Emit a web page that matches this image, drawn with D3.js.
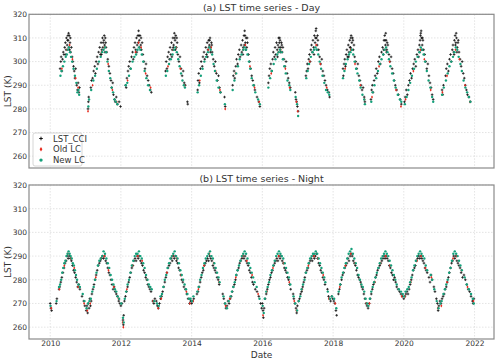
<!DOCTYPE html>
<html>
<head>
<meta charset="utf-8">
<script src="https://cdn.jsdelivr.net/npm/d3@7"></script>
<style>
  body { margin: 0; background: #fff; }
  svg text { font-family: "DejaVu Sans", sans-serif; fill: #333; }
</style>
</head>
<body>
<div id="chart"></div>
<script>
var svgWidth = 500;
var svgHeight = 362;

// time given as years after 2000 (decimal), value in K
var dayCCI = [
  [10.28,297],[10.30,300],[10.31,302],[10.33,296],[10.35,301],[10.37,304],[10.39,303],[10.41,306],[10.43,308],[10.45,305],[10.46,310],[10.48,307],[10.50,311],[10.51,309],[10.53,306],[10.54,311],[10.56,308],[10.58,304],[10.60,306],[10.62,302],[10.64,300],[10.66,298],[10.68,296],[10.70,293],[10.72,297],[10.75,290],[10.77,288],[10.79,291],[10.81,287],[10.83,289],
  [10.44,303],[10.49,309],[10.52,312],[10.55,305],[10.57,310],
  [11.07,280],[11.08,283],[11.09,285],[11.15,289],[11.17,292],[11.20,293],[11.23,296],[11.26,298],[11.28,295],[11.30,300],[11.33,302],[11.35,299],[11.37,304],[11.40,306],[11.42,303],[11.44,308],[11.46,305],[11.48,310],[11.50,308],[11.52,309],[11.54,307],[11.56,310],[11.58,306],[11.60,304],[11.63,301],[11.66,298],[11.69,295],[11.72,292],[11.74,289],[11.77,291],[11.79,286],[11.82,284],[11.84,283],[11.87,285],[11.90,282],[11.95,283],[11.99,281],
  [11.45,303],[11.49,306],[11.53,311],[11.55,304],[11.57,308],
  [12.13,290],[12.15,289],[12.17,293],[12.20,296],[12.22,298],[12.25,300],[12.27,297],[12.30,302],[12.33,304],[12.35,301],[12.37,306],[12.40,308],[12.42,305],[12.44,310],[12.46,307],[12.48,311],[12.50,313],[12.52,309],[12.54,311],[12.56,307],[12.58,305],[12.60,308],[12.62,303],[12.65,300],[12.68,297],[12.71,299],[12.74,294],[12.77,292],[12.80,290],[12.83,288],[12.86,287],
  [12.45,304],[12.49,308],[12.51,311],[12.53,306],[12.57,310],
  [13.26,296],[13.28,300],[13.30,297],[13.32,302],[13.35,304],[13.37,301],[13.39,306],[13.41,303],[13.43,308],[13.45,305],[13.47,310],[13.49,307],[13.51,312],[13.53,309],[13.55,311],[13.57,306],[13.59,308],[13.61,303],[13.64,300],[13.67,302],[13.70,297],[13.73,294],[13.76,296],[13.79,291],[13.82,290],[13.88,283],[13.89,282],
  [13.44,302],[13.48,306],[13.52,310],[13.54,305],[13.58,310],
  [14.17,288],[14.18,292],[14.20,295],[14.22,291],[14.25,297],[14.27,300],[14.30,298],[14.32,302],[14.35,304],[14.37,301],[14.40,306],[14.42,303],[14.44,308],[14.46,305],[14.48,309],[14.50,307],[14.52,310],[14.54,306],[14.56,308],[14.58,304],[14.61,301],[14.64,298],[14.67,300],[14.70,295],[14.73,292],[14.76,294],[14.79,289],[14.82,287],[14.93,285],[14.95,281],
  [14.45,302],[14.49,306],[14.51,309],[14.53,304],[14.57,307],
  [15.16,290],[15.18,294],[15.20,296],[15.22,293],[15.25,298],[15.27,301],[15.30,299],[15.32,303],[15.35,305],[15.37,302],[15.40,307],[15.42,304],[15.44,309],[15.46,306],[15.48,311],[15.50,313],[15.52,308],[15.54,310],[15.56,306],[15.58,308],[15.61,303],[15.64,300],[15.67,297],[15.70,294],[15.73,292],[15.76,290],[15.79,288],[15.85,285],[15.90,283],[15.93,281],
  [15.45,303],[15.49,307],[15.51,311],[15.53,305],[15.57,310],
  [16.17,291],[16.19,294],[16.21,297],[16.24,299],[16.26,296],[16.29,301],[16.31,304],[16.34,302],[16.36,306],[16.38,303],[16.40,308],[16.42,305],[16.44,307],[16.46,310],[16.48,308],[16.50,309],[16.52,306],[16.54,308],[16.56,304],[16.58,306],[16.61,301],[16.64,298],[16.67,300],[16.70,295],[16.73,293],[16.76,291],[16.79,289],
  [16.43,302],[16.47,306],[16.49,310],[16.51,304],[16.55,307],
  [16.93,287],[16.95,284],[16.97,283],[16.99,281],[17.01,279],[17.23,294],[17.25,296],[17.27,299],[17.29,297],[17.31,301],[17.33,303],[17.35,300],[17.37,305],[17.39,307],[17.41,304],[17.43,309],[17.45,306],[17.47,311],[17.49,308],[17.51,313],[17.53,310],[17.55,307],[17.57,309],[17.59,305],[17.62,302],[17.65,299],[17.68,301],[17.71,296],[17.74,294],[17.77,292],[17.80,290],[17.84,288],[17.88,287],[17.90,285],
  [17.46,303],[17.50,310],[17.52,314],[17.54,305],[17.56,311],
  [18.28,297],[18.29,294],[18.31,299],[18.33,301],[18.35,298],[18.37,303],[18.39,305],[18.41,302],[18.43,307],[18.45,304],[18.47,309],[18.49,306],[18.51,311],[18.53,308],[18.55,310],[18.57,305],[18.59,307],[18.61,302],[18.64,300],[18.67,297],[18.70,299],[18.73,294],[18.76,292],[18.79,290],[18.82,288],[18.85,289],[18.88,285],[18.90,283],
  [18.44,302],[18.48,306],[18.50,310],[18.52,305],[18.56,309],
  [19.07,284],[19.09,288],[19.11,290],[19.13,287],[19.16,292],[19.19,294],[19.22,297],[19.25,295],[19.28,300],[19.31,302],[19.34,299],[19.37,304],[19.40,306],[19.42,303],[19.44,309],[19.46,311],[19.48,307],[19.50,309],[19.52,305],[19.55,307],[19.58,303],[19.61,300],[19.64,302],[19.67,297],[19.70,295],[19.73,292],[19.76,290],[19.80,288],[19.85,286],[19.90,284],[19.93,282],
  [19.43,305],[19.47,309],[19.49,312],[19.51,304],[19.53,308],
  [20.02,283],[20.04,285],[20.07,288],[20.10,286],[20.13,290],[20.16,292],[20.19,295],[20.22,293],[20.25,297],[20.28,299],[20.31,301],[20.34,298],[20.37,303],[20.40,305],[20.42,302],[20.44,307],[20.46,309],[20.48,312],[20.50,310],[20.52,307],[20.54,309],[20.56,305],[20.59,303],[20.62,300],[20.65,297],[20.68,299],[20.71,294],[20.74,291],[20.77,289],[20.80,286],[20.83,284],
  [20.45,304],[20.47,311],[20.49,313],[20.51,305],[20.53,310],
  [21.08,288],[21.10,286],[21.12,290],[21.18,294],[21.20,297],[21.23,299],[21.26,296],[21.29,301],[21.32,303],[21.34,300],[21.37,305],[21.39,307],[21.41,304],[21.43,309],[21.45,311],[21.47,308],[21.49,310],[21.51,306],[21.53,308],[21.56,304],[21.59,301],[21.62,298],[21.65,300],[21.68,295],[21.71,293],[21.74,290],[21.77,288],[21.80,286],[21.84,285],[21.88,283],
  [21.42,303],[21.46,307],[21.48,312],[21.50,304],[21.54,309]
];
var dayOld = [
  [10.33,297],[10.48,305],[10.55,307],[10.63,301],[10.72,293],[10.79,289],
  [11.07,279],[11.20,290],[11.45,304],[11.53,306],[11.64,299],[11.76,288],[11.88,283],
  [12.19,292],[12.41,304],[12.50,308],[12.57,306],[12.70,295],[12.84,289],
  [13.33,298],[13.48,305],[13.56,306],[13.68,297],[13.80,290],
  [14.23,292],[14.47,305],[14.55,306],[14.68,296],[14.80,288],[14.95,280],
  [15.24,295],[15.45,305],[15.52,307],[15.65,298],[15.78,289],[15.91,283],
  [16.25,295],[16.45,304],[16.52,305],[16.65,297],[16.77,289],
  [16.96,283],[17.00,279],[17.34,300],[17.52,307],[17.64,299],[17.82,289],
  [18.34,297],[18.50,305],[18.62,299],[18.77,290],[18.89,284],
  [19.10,285],[19.30,298],[19.47,305],[19.60,300],[19.78,288],[19.92,281],
  [20.05,284],[20.27,296],[20.47,305],[20.58,301],[20.76,288],
  [21.09,287],[21.22,294],[21.46,305],[21.57,301],[21.73,290],[21.87,283]
];
var dayNew = [
  [10.29,294],[10.32,296],[10.36,298],[10.40,300],[10.44,302],[10.47,303],[10.50,305],[10.53,306],[10.56,304],[10.59,302],[10.62,300],[10.66,297],[10.70,294],[10.74,291],[10.77,287],[10.80,288],[10.82,286],
  [11.08,281],[11.10,284],[11.16,288],[11.22,292],[11.27,294],[11.32,297],[11.38,300],[11.43,302],[11.47,304],[11.51,305],[11.55,306],[11.58,304],[11.62,300],[11.66,296],[11.70,293],[11.74,289],[11.78,287],[11.82,284],[11.86,283],[11.90,282],
  [12.14,290],[12.18,291],[12.23,294],[12.28,297],[12.33,300],[12.38,302],[12.43,303],[12.47,305],[12.51,306],[12.55,305],[12.59,303],[12.63,300],[12.67,296],[12.72,293],[12.77,290],[12.82,288],
  [13.27,294],[13.31,296],[13.36,299],[13.41,301],[13.46,303],[13.50,305],[13.54,306],[13.58,304],[13.62,301],[13.66,298],[13.70,295],[13.74,292],[13.78,290],[13.81,289],
  [14.17,287],[14.21,290],[14.26,294],[14.31,297],[14.36,300],[14.41,302],[14.46,304],[14.50,306],[14.54,305],[14.58,303],[14.62,299],[14.66,296],[14.71,292],[14.76,289],[14.81,287],[14.94,282],
  [15.16,288],[15.21,292],[15.26,295],[15.31,298],[15.36,301],[15.41,303],[15.46,305],[15.50,306],[15.54,305],[15.58,303],[15.62,300],[15.66,297],[15.70,293],[15.75,290],[15.80,287],[15.88,284],[15.93,282],
  [16.17,289],[16.22,293],[16.27,296],[16.32,299],[16.37,301],[16.42,303],[16.46,304],[16.50,305],[16.54,304],[16.58,301],[16.62,298],[16.66,295],[16.71,292],[16.76,290],[16.79,288],
  [16.94,285],[16.98,282],[17.01,277],[17.24,293],[17.28,296],[17.32,299],[17.37,302],[17.42,304],[17.46,305],[17.50,306],[17.54,305],[17.58,303],[17.62,300],[17.66,297],[17.70,294],[17.75,291],[17.80,288],[17.85,287],[17.89,286],
  [18.28,293],[18.32,296],[18.36,299],[18.41,301],[18.45,303],[18.49,304],[18.53,305],[18.57,303],[18.61,300],[18.65,297],[18.69,295],[18.74,292],[18.78,289],[18.83,286],[18.88,284],[18.90,282],
  [19.08,283],[19.12,287],[19.17,290],[19.22,293],[19.27,296],[19.32,299],[19.37,301],[19.42,303],[19.46,305],[19.50,306],[19.54,304],[19.58,301],[19.62,298],[19.67,295],[19.72,292],[19.77,289],[19.83,286],[19.89,284],[19.93,283],
  [20.03,282],[20.08,285],[20.13,288],[20.18,291],[20.23,294],[20.29,297],[20.34,300],[20.39,302],[20.44,304],[20.48,306],[20.52,305],[20.56,303],[20.60,300],[20.65,296],[20.70,292],[20.75,289],[20.80,285],[20.83,283],
  [21.08,286],[21.13,289],[21.19,292],[21.24,295],[21.29,298],[21.34,300],[21.39,302],[21.43,304],[21.47,306],[21.51,305],[21.55,302],[21.60,299],[21.64,296],[21.69,292],[21.74,289],[21.79,287],[21.84,285],[21.88,283]
];

var nightCCI = [
  [10.00,270],[10.02,268],[10.04,267],[10.17,270],[10.19,272],[10.25,276],[10.27,277],[10.30,279],[10.33,281],[10.36,283],[10.39,285],[10.42,287],[10.45,288],[10.48,290],[10.51,289],[10.54,290],[10.57,289],[10.60,288],[10.63,286],[10.66,284],[10.69,283],[10.72,281],[10.75,279],[10.78,277],[10.81,278],[10.84,276],[10.90,273],[10.95,271],[10.98,269],
  [11.02,267],[11.04,269],[11.06,266],[11.08,270],[11.10,268],[11.12,272],[11.14,269],[11.16,271],[11.18,274],[11.21,276],[11.24,278],[11.27,280],[11.30,282],[11.33,284],[11.36,286],[11.39,287],[11.42,288],[11.45,289],[11.48,290],[11.51,289],[11.54,290],[11.57,288],[11.60,287],[11.63,285],[11.66,283],[11.69,282],[11.72,280],[11.75,278],[11.78,276],[11.81,277],[11.84,275],[11.87,274],[11.90,273],[11.94,271],[11.97,270],
  [12.00,269],[12.03,270],[12.06,263],[12.07,261],[12.08,265],[12.10,271],[12.13,273],[12.16,275],[12.19,277],[12.22,279],[12.25,281],[12.28,283],[12.31,285],[12.34,286],[12.37,288],[12.40,289],[12.43,288],[12.46,290],[12.49,289],[12.52,290],[12.55,288],[12.58,287],[12.61,286],[12.64,284],[12.67,283],[12.70,281],[12.73,280],[12.76,278],[12.79,277],[12.82,276],[12.85,275],[12.90,271],[12.93,270],[12.96,272],
  [13.00,271],[13.03,269],[13.06,268],[13.09,270],[13.12,272],[13.15,273],[13.18,275],[13.21,277],[13.24,279],[13.27,281],[13.30,283],[13.33,285],[13.36,286],[13.39,287],[13.42,289],[13.45,288],[13.48,290],[13.51,289],[13.54,290],[13.57,288],[13.60,287],[13.63,285],[13.66,284],[13.69,282],[13.72,280],[13.75,279],[13.78,277],[13.82,276],[13.86,274],[13.90,272],[13.94,270],[13.97,271],
  [14.00,270],[14.03,271],[14.06,272],[14.15,274],[14.18,275],[14.21,277],[14.24,279],[14.27,281],[14.30,283],[14.33,284],[14.36,286],[14.39,287],[14.42,288],[14.45,289],[14.48,288],[14.51,290],[14.54,289],[14.57,288],[14.60,286],[14.63,285],[14.66,284],[14.69,283],[14.72,281],[14.75,280],[14.78,278],
  [14.88,274],[14.91,272],[14.94,270],[14.97,268],[15.00,269],[15.03,271],[15.06,270],[15.09,272],[15.12,273],[15.15,275],[15.18,277],[15.21,278],[15.24,280],[15.27,282],[15.30,284],[15.33,285],[15.36,287],[15.39,288],[15.42,289],[15.45,290],[15.48,289],[15.51,290],[15.54,288],[15.57,287],[15.60,286],[15.63,284],[15.66,283],[15.69,281],[15.72,279],[15.75,278],[15.80,276],[15.85,275],[15.90,273],[15.95,270],[15.98,268],
  [16.00,270],[16.02,267],[16.03,264],[16.05,268],[16.08,272],[16.11,274],[16.14,276],[16.17,278],[16.20,280],[16.23,281],[16.26,283],[16.29,284],[16.32,286],[16.35,287],[16.38,288],[16.41,289],[16.44,288],[16.47,290],[16.50,289],[16.53,290],[16.56,288],[16.59,287],[16.62,285],[16.65,284],[16.68,283],[16.71,281],[16.74,280],[16.77,278],[16.80,276],
  [16.87,274],[16.89,272],[16.92,270],[16.95,268],[16.97,266],[16.99,269],[17.02,271],[17.05,272],[17.08,274],[17.11,275],[17.14,277],[17.17,279],[17.20,281],[17.23,283],[17.26,284],[17.29,285],[17.32,287],[17.35,288],[17.38,289],[17.41,288],[17.44,290],[17.47,289],[17.50,290],[17.53,291],[17.56,289],[17.59,287],[17.62,286],[17.65,284],[17.68,283],[17.71,281],[17.74,280],[17.77,278],
  [17.84,276],[17.87,273],[17.90,272],[17.93,271],[17.96,273],[17.99,272],[18.02,271],[18.05,270],[18.08,267],[18.10,265],[18.15,274],[18.18,276],[18.21,278],[18.24,280],[18.27,282],[18.30,283],[18.33,285],[18.36,286],[18.39,287],[18.42,289],[18.45,288],[18.48,290],[18.51,291],[18.54,290],[18.57,288],[18.60,287],[18.63,286],[18.66,284],[18.69,282],[18.72,281],[18.75,280],[18.78,279],[18.81,277],[18.84,276],[18.87,274],[18.90,272],[18.93,270],[18.96,269],[18.99,268],
  [19.02,270],[19.05,272],[19.08,274],[19.11,276],[19.14,278],[19.17,279],[19.20,281],[19.23,282],[19.26,284],[19.29,285],[19.32,286],[19.35,287],[19.38,288],[19.41,289],[19.44,290],[19.47,289],[19.50,290],[19.53,289],[19.56,288],[19.59,286],[19.62,285],[19.65,283],[19.68,282],[19.71,280],[19.74,281],[19.77,279],[19.80,277],[19.84,276],[19.88,275],[19.92,274],[19.96,273],
  [20.00,272],[20.03,273],[20.06,274],[20.09,275],[20.12,274],[20.15,276],[20.18,278],[20.21,280],[20.24,282],[20.27,284],[20.30,285],[20.33,286],[20.36,288],[20.39,289],[20.42,290],[20.45,289],[20.48,290],[20.51,289],[20.54,288],[20.57,287],[20.60,285],[20.63,284],[20.66,283],[20.71,281],[20.74,279],[20.77,282],[20.80,280],[20.85,277],[20.88,275],[20.92,272],[20.95,270],[20.97,267],[20.99,269],
  [21.02,271],[21.05,270],[21.08,272],[21.11,273],[21.14,274],[21.17,276],[21.20,277],[21.23,279],[21.26,281],[21.29,283],[21.32,285],[21.35,287],[21.38,288],[21.41,290],[21.44,289],[21.47,290],[21.50,288],[21.53,287],[21.56,286],[21.59,285],[21.62,283],[21.66,281],[21.70,282],[21.74,280],[21.78,278],[21.82,276],[21.86,275],[21.90,273],[21.94,271],[21.96,270],[21.98,272]
];
var nightOld = [
  [10.03,268],[10.26,276],[10.40,286],[10.50,291],[10.59,289],[10.68,285],[10.79,277],[10.96,270],
  [11.05,267],[11.13,270],[11.29,281],[11.44,289],[11.53,290],[11.65,284],[11.80,277],[11.93,272],
  [12.05,262],[12.07,260],[12.17,276],[12.33,286],[12.48,290],[12.60,288],[12.74,280],[12.91,271],
  [13.05,268],[13.14,272],[13.30,283],[13.46,290],[13.58,289],[13.70,282],[13.85,275],[13.95,270],
  [14.04,271],[14.19,276],[14.35,286],[14.50,291],[14.62,287],[14.77,279],
  [14.96,269],[15.08,272],[15.25,281],[15.44,290],[15.56,288],[15.71,282],[15.88,274],
  [16.02,265],[16.13,275],[16.30,285],[16.46,290],[16.60,287],[16.76,279],
  [16.90,271],[16.96,267],[17.13,276],[17.30,286],[17.46,290],[17.57,289],[17.72,282],
  [17.88,272],[18.06,270],[18.19,277],[18.35,286],[18.50,291],[18.62,287],[18.79,278],[18.94,270],
  [19.03,270],[19.18,279],[19.34,287],[19.49,290],[19.61,286],[19.75,280],[19.94,273],
  [20.04,273],[20.20,279],[20.37,288],[20.49,290],[20.61,285],[20.78,281],[20.96,268],
  [21.06,269],[21.22,279],[21.39,289],[21.49,290],[21.63,284],[21.80,277],[21.97,271]
];
var nightNew = [
  [10.01,269],[10.18,271],[10.25,277],[10.28,278],[10.31,280],[10.34,283],[10.37,285],[10.40,287],[10.43,288],[10.46,290],[10.49,291],[10.52,292],[10.55,291],[10.58,290],[10.61,289],[10.64,287],[10.67,286],[10.70,284],[10.73,282],[10.76,280],[10.80,278],[10.84,277],[10.92,274],[10.97,271],
  [11.03,268],[11.07,270],[11.11,271],[11.15,272],[11.19,275],[11.23,277],[11.27,280],[11.31,283],[11.35,286],[11.39,288],[11.43,289],[11.47,290],[11.51,292],[11.55,291],[11.59,289],[11.63,287],[11.67,285],[11.71,282],[11.75,280],[11.79,278],[11.83,276],[11.87,275],[11.91,273],[11.95,272],
  [12.01,270],[12.06,264],[12.08,262],[12.11,272],[12.15,275],[12.19,278],[12.23,280],[12.27,283],[12.31,286],[12.35,288],[12.39,290],[12.43,291],[12.47,291],[12.51,292],[12.55,290],[12.59,289],[12.63,287],[12.67,285],[12.71,282],[12.75,280],[12.79,278],[12.83,277],[12.87,276],[12.94,271],
  [13.02,270],[13.07,269],[13.12,273],[13.16,274],[13.20,277],[13.24,280],[13.28,282],[13.32,285],[13.36,287],[13.40,289],[13.44,290],[13.48,291],[13.52,292],[13.56,290],[13.60,289],[13.64,287],[13.68,284],[13.72,282],[13.76,280],[13.80,278],[13.84,276],[13.88,274],[13.93,272],[13.97,272],
  [14.01,271],[14.05,273],[14.16,275],[14.20,277],[14.24,280],[14.28,282],[14.32,285],[14.36,287],[14.40,289],[14.44,290],[14.48,291],[14.52,292],[14.56,290],[14.60,289],[14.64,287],[14.68,285],[14.72,283],[14.76,281],[14.79,279],
  [14.90,273],[14.95,270],[15.00,268],[15.05,271],[15.10,273],[15.14,275],[15.18,277],[15.22,279],[15.26,282],[15.30,284],[15.34,286],[15.38,288],[15.42,290],[15.46,291],[15.50,292],[15.54,291],[15.58,289],[15.62,287],[15.66,285],[15.70,283],[15.74,281],[15.78,279],[15.84,277],[15.92,272],
  [16.01,269],[16.04,266],[16.07,272],[16.11,275],[16.15,277],[16.19,279],[16.23,282],[16.27,284],[16.31,286],[16.35,288],[16.39,290],[16.43,291],[16.47,292],[16.51,291],[16.55,290],[16.59,289],[16.63,287],[16.67,285],[16.71,283],[16.75,281],[16.79,278],
  [16.88,273],[16.93,270],[16.98,267],[17.03,271],[17.07,273],[17.11,276],[17.15,278],[17.19,280],[17.23,283],[17.27,285],[17.31,287],[17.35,289],[17.39,290],[17.43,291],[17.47,291],[17.51,292],[17.55,291],[17.59,289],[17.63,287],[17.67,285],[17.71,283],[17.75,281],[17.78,279],
  [17.85,275],[17.91,272],[17.97,273],[18.03,272],[18.09,268],[18.16,275],[18.20,278],[18.24,281],[18.28,283],[18.32,285],[18.36,287],[18.40,289],[18.44,291],[18.48,292],[18.52,293],[18.56,291],[18.60,289],[18.64,287],[18.68,285],[18.72,282],[18.76,280],[18.80,278],[18.84,277],[18.88,275],[18.92,272],[18.96,270],
  [19.00,269],[19.04,272],[19.08,275],[19.12,277],[19.16,279],[19.20,281],[19.24,283],[19.28,285],[19.32,287],[19.36,289],[19.40,290],[19.44,291],[19.48,292],[19.52,291],[19.56,290],[19.60,288],[19.64,286],[19.68,284],[19.72,282],[19.76,280],[19.80,278],[19.86,276],[19.92,275],[19.97,274],
  [20.01,273],[20.05,275],[20.10,276],[20.14,277],[20.18,279],[20.22,281],[20.26,284],[20.30,286],[20.34,288],[20.38,290],[20.42,291],[20.46,292],[20.50,291],[20.54,290],[20.58,289],[20.62,286],[20.66,284],[20.76,282],[20.80,280],[20.86,276],[20.93,271],[20.98,268],
  [21.03,270],[21.07,271],[21.12,274],[21.16,276],[21.20,278],[21.24,280],[21.28,283],[21.32,285],[21.36,288],[21.40,291],[21.44,292],[21.48,291],[21.52,290],[21.56,288],[21.60,286],[21.64,284],[21.72,281],[21.78,278],[21.84,276],[21.90,274],[21.95,272],[21.98,270]
];

var yTicks = [260, 270, 280, 290, 300, 310, 320];
var legendLabels = ["LST_CCI", "Old LC", "New LC"];
var colors = {cci: "#111", old: "#e8291c", nw: "#14a07a"};

// decimal year (after 2000) -> Date
function toDate(t) {
  var y = 2000 + Math.floor(t);
  var start = Date.UTC(y, 0, 1), end = Date.UTC(y + 1, 0, 1);
  return new Date(start + (t - Math.floor(t)) * (end - start));
}

var margin = {left: 29, right: 6};
var panels = [
  {top: 14.3, bottom: 168, title: "(a) LST time series - Day", cci: dayCCI, old: dayOld, nw: dayNew, legend: true},
  {top: 185, bottom: 339, title: "(b) LST time series - Night", cci: nightCCI, old: nightOld, nw: nightNew, legend: false}
];

var svg = d3.select("#chart").append("svg")
  .attr("width", svgWidth)
  .attr("height", svgHeight);

var x = d3.scaleUtc()
  .domain([toDate(9.4), toDate(22.55)])
  .range([margin.left, svgWidth - margin.right]);

function crossPath(s) {
  return "M" + (-s) + ",0H" + s + "M0," + (-s) + "V" + s;
}

panels.forEach(function(p) {
  var y = d3.scaleLinear().domain([255, 320]).range([p.bottom, p.top]);
  var g = svg.append("g");

  // grid
  g.append("g").selectAll("line.gy").data(yTicks).enter().append("line")
    .attr("x1", margin.left).attr("x2", svgWidth - margin.right)
    .attr("y1", d => y(d)).attr("y2", d => y(d))
    .attr("stroke", "#d8d8d8").attr("stroke-width", 0.7).attr("stroke-dasharray", "1.5,1.5");
  g.append("g").selectAll("line.gx").data(x.ticks(d3.utcYear.every(2))).enter().append("line")
    .attr("x1", d => x(d)).attr("x2", d => x(d))
    .attr("y1", p.top).attr("y2", p.bottom)
    .attr("stroke", "#d8d8d8").attr("stroke-width", 0.7).attr("stroke-dasharray", "1.5,1.5");

  // points
  g.append("g").selectAll("path").data(p.cci).enter().append("path")
    .attr("transform", d => `translate(${x(toDate(d[0]))},${y(d[1])})`)
    .attr("d", crossPath(1.3))
    .attr("stroke", colors.cci).attr("stroke-width", 0.8).attr("fill", "none");
  g.append("g").selectAll("path").data(p.old).enter().append("path")
    .attr("transform", d => `translate(${x(toDate(d[0]))},${y(d[1])})`)
    .attr("d", "M0,-1.6L1,0L0,1.6L-1,0Z")
    .attr("fill", colors.old);
  g.append("g").selectAll("circle").data(p.nw).enter().append("circle")
    .attr("cx", d => x(toDate(d[0])))
    .attr("cy", d => y(d[1]))
    .attr("r", 1.2)
    .attr("fill", colors.nw);

  // axes
  var yAxis = d3.axisLeft(y).tickValues(yTicks).tickSize(0).tickPadding(2);
  var yg = g.append("g").attr("transform", `translate(${margin.left},0)`).call(yAxis);
  yg.select(".domain").remove();
  yg.selectAll("text").attr("font-size", 7.5);

  var xAxis = d3.axisBottom(x).ticks(d3.utcYear.every(2)).tickFormat(d3.utcFormat("%Y")).tickSize(0).tickPadding(2);
  var xg = g.append("g").attr("transform", `translate(0,${p.bottom})`).call(xAxis);
  xg.select(".domain").remove();
  xg.selectAll("text").attr("font-size", 7.5);
  if (p.legend) xg.selectAll("text").remove();

  // frame
  g.append("rect")
    .attr("x", margin.left).attr("y", p.top)
    .attr("width", svgWidth - margin.right - margin.left).attr("height", p.bottom - p.top)
    .attr("fill", "none").attr("stroke", "#8a8a8a").attr("stroke-width", 1.2);

  g.append("text")
    .attr("x", (margin.left + svgWidth - margin.right) / 2).attr("y", p.top - 3)
    .attr("text-anchor", "middle").attr("font-size", 9.5)
    .text(p.title);

  g.append("text")
    .attr("transform", `translate(10.5,${(p.top + p.bottom) / 2}) rotate(-90)`)
    .attr("text-anchor", "middle").attr("font-size", 9)
    .text("LST (K)");

  if (p.legend) {
    var lg = g.append("g").attr("transform", "translate(33,133)");
    lg.append("rect").attr("width", 49).attr("height", 33).attr("rx", 2)
      .attr("fill", "white").attr("fill-opacity", 0.8).attr("stroke", "#ccc").attr("stroke-width", 0.8);
    legendLabels.forEach(function(lab, i) {
      var cy = 5.5 + i * 10.8;
      var m = lg.append("g").attr("transform", `translate(8,${cy})`);
      if (i === 0) m.append("path").attr("d", crossPath(1.8)).attr("stroke", colors.cci).attr("stroke-width", 1).attr("fill", "none");
      if (i === 1) m.append("path").attr("d", "M0,-2.3L1.4,0L0,2.3L-1.4,0Z").attr("fill", colors.old);
      if (i === 2) m.append("circle").attr("r", 1.7).attr("fill", colors.nw);
      lg.append("text").attr("x", 20).attr("y", cy + 3).attr("font-size", 8.5).text(lab);
    });
  }
});

svg.append("text")
  .attr("x", (margin.left + svgWidth - margin.right) / 2).attr("y", 358)
  .attr("text-anchor", "middle").attr("font-size", 9)
  .text("Date");
</script>
</body>
</html>
